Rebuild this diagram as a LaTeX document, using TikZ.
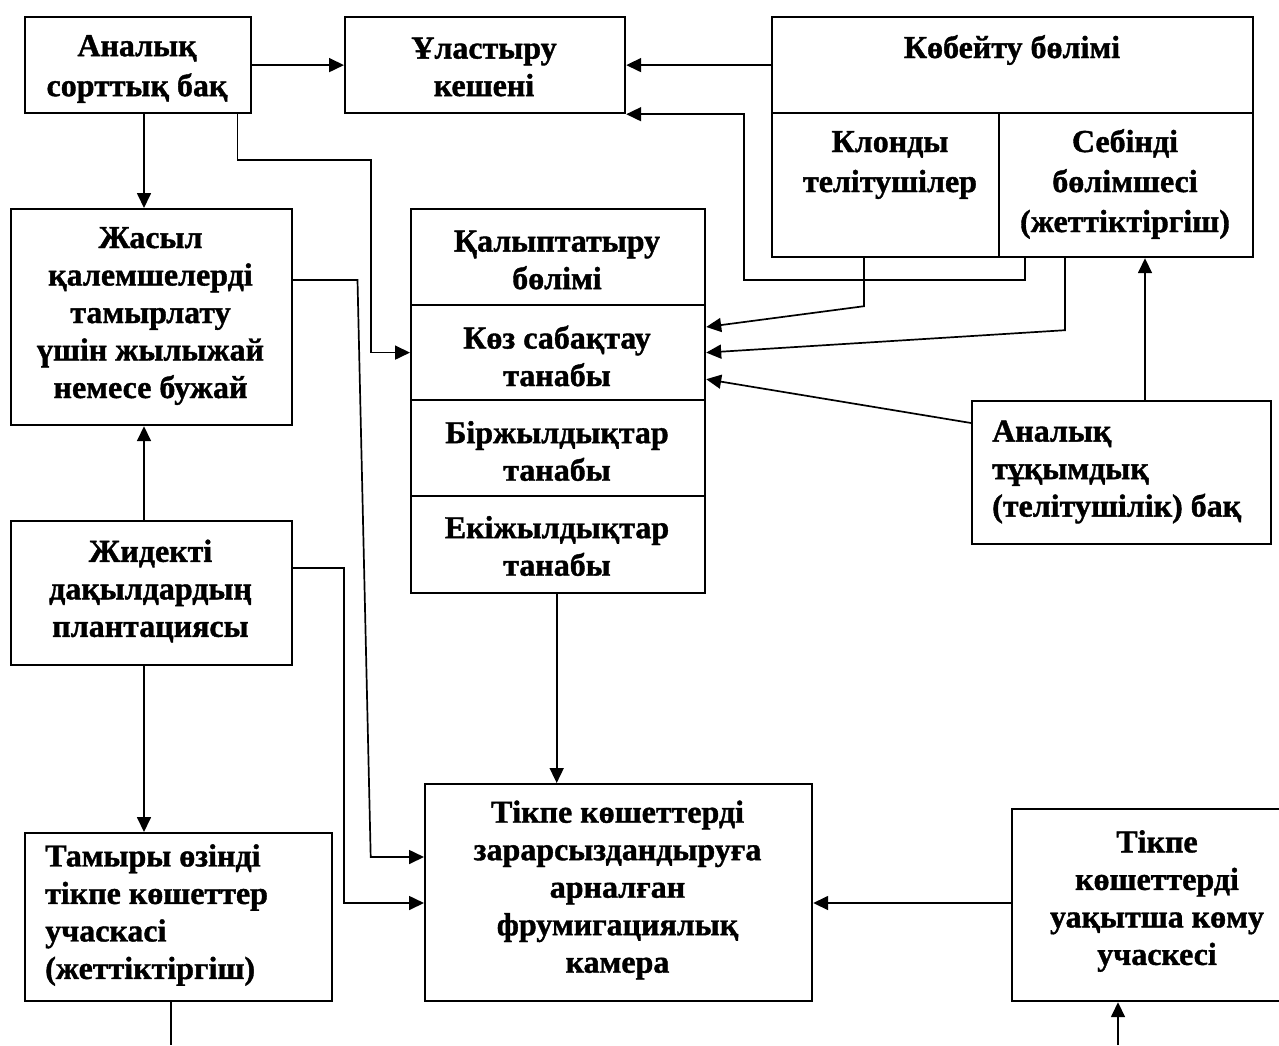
\documentclass[tikz,border=0pt]{standalone}
\usepackage{fontspec}
\setmainfont{Liberation Serif}[BoldFeatures={FakeBold=1.2}]
\usetikzlibrary{arrows.meta,calc}
\begin{document}
\begin{tikzpicture}[x=1pt,y=-1pt,
  box/.style={draw,line width=2.2pt,inner sep=0pt,anchor=north west},
  lbl/.style={font=\fontsize{32}{37.5}\selectfont\bfseries,align=center,inner sep=0pt},
  lbll/.style={font=\fontsize{32}{37.5}\selectfont\bfseries,align=left,inner sep=0pt,anchor=west},
  arr/.style={line width=1.7pt,-{Triangle[length=15pt,width=14pt]}},
  ln/.style={line width=1.7pt}]
\useasboundingbox (0,0) rectangle (1279,1045);

% boxes
\node[box,minimum width=226pt,minimum height=96pt] (A) at (24,16) {};
\node[box,minimum width=280pt,minimum height=96pt] (U) at (344,16) {};
\node[box,minimum width=481pt,minimum height=96pt] (Ktop) at (771,16) {};
\node[box,minimum width=227pt,minimum height=144pt] (Kl) at (771,112) {};
\node[box,minimum width=254pt,minimum height=144pt] (Kr) at (998,112) {};
\node[box,minimum width=281pt,minimum height=216pt] (J) at (10,208) {};
\node[box,minimum width=294pt,minimum height=96pt] (S1) at (410,208) {};
\node[box,minimum width=294pt,minimum height=95pt] (S2) at (410,304) {};
\node[box,minimum width=294pt,minimum height=96pt] (S3) at (410,399) {};
\node[box,minimum width=294pt,minimum height=97pt] (S4) at (410,495) {};
\node[box,minimum width=299pt,minimum height=143pt] (T) at (971,400) {};
\node[box,minimum width=281pt,minimum height=144pt] (Zh) at (10,520) {};
\node[box,minimum width=307pt,minimum height=168pt] (Tam) at (24,832) {};
\node[box,minimum width=387pt,minimum height=217pt] (F) at (424,783) {};
\node[box,minimum width=292pt,minimum height=192pt] (V) at (1011,808) {};

% labels
\node[lbl,font=\fontsize{32}{40}\selectfont\bfseries] (At) at (137,69) {Аналық\\сорттық бақ};
\node[lbl] (Ut) at (484,67) {Ұластыру\\кешені};
\node[lbl] (Kt) at (1012,50) {Көбейту бөлімі};
\node[lbl,font=\fontsize{32}{40}\selectfont\bfseries] (Klt) at (890,165) {Клонды\\телітушілер};
\node[lbl,font=\fontsize{32}{40}\selectfont\bfseries] (Krt) at (1125,184) {Себінді\\бөлімшесі\\(жеттіктіргіш)};
\node[lbl] (Jt) at (150.5,316) {Жасыл\\қалемшелерді\\тамырлату\\үшін жылыжай\\немесе бужай};
\node[lbl] (S1t) at (557,260) {Қалыптатыру\\бөлімі};
\node[lbl] (S2t) at (557,356) {Көз сабақтау\\танабы};
\node[lbl] (S3t) at (557,451) {Біржылдықтар\\танабы};
\node[lbl] (S4t) at (557,546) {Екіжылдықтар\\танабы};
\node[lbll] (Tt) at (992,472) {Аналық\\тұқымдық\\(телітушілік) бақ};
\node[lbl] (Zht) at (150.5,591) {Жидекті\\дақылдардың\\плантациясы};
\node[lbll] (Tamt) at (45,915) {Тамыры өзінді\\тікпе көшеттер\\учаскасі\\(жеттіктіргіш)};
\node[lbl] (Ft) at (617.5,890) {Тікпе көшеттерді\\зарарсыздандыруға\\арналған\\фрумигациялық\\камера};
\node[lbl] (Vt) at (1157,901) {Тікпе\\көшеттерді\\уақытша көму\\учаскесі};

% helper coordinates
\coordinate (c1) at (744,280);
\coordinate (c2) at (237.5,160);
\coordinate (c3) at (371,160);
\coordinate (c4) at (357.5,280);
\coordinate (c5) at (370.7,857);
\coordinate (c6) at (344,568);
\coordinate (bot1) at (171,1045);
\coordinate (bot2) at (1118,1045);

% connectors
\draw[arr] (A.east) -- (U.west);
\draw[arr] (Ktop.west) -- (U.east);
\draw[arr] ([xshift=27pt]Kr.south west) |- (c1) |- (U.south east);
\draw[arr] ([xshift=93pt]Kl.south west) -- ++(0,48) -- ([yshift=-23pt]S2.north east);
\draw[arr] ([xshift=67pt]Kr.south west) -- ++(0,72) -- (S2.east);
\draw[arr] ([yshift=-23pt]T.north west) -- ([yshift=22pt]S2.south east);
\draw[arr] ([xshift=174pt]T.north west) -- ([xshift=174pt]T.north west |- Kr.south);
\draw[arr] ([xshift=120pt]A.south west) -- ([xshift=120pt]A.south west |- J.north);
\draw[arr] ([xshift=213.5pt]A.south west) -- (c2) -- (c3) |- (S2.west);
\draw[arr] ([yshift=-72pt]J.north east) -- (c4) -- (c5) -- (c5 -| F.west);
\draw[arr] ([xshift=134pt]Zh.north west) -- ([xshift=134pt]Zh.north west |- J.south);
\draw[arr] ([yshift=-48pt]Zh.north east) -- (c6) |- ([yshift=-120pt]F.north west);
\draw[arr] ([xshift=134pt]Zh.south west) -- ([xshift=134pt]Zh.south west |- Tam.north);
\draw[ln] (bot1 |- Tam.south) -- (bot1);
\draw[arr] ([xshift=146.7pt]S4.south west) -- ([xshift=146.7pt]S4.south west |- F.north);
\draw[arr] ([yshift=-95pt]V.north west) -- ([yshift=-95pt]V.north west -| F.east);
\draw[arr] (bot2) -- (bot2 |- V.south);
\end{tikzpicture}
\end{document}
